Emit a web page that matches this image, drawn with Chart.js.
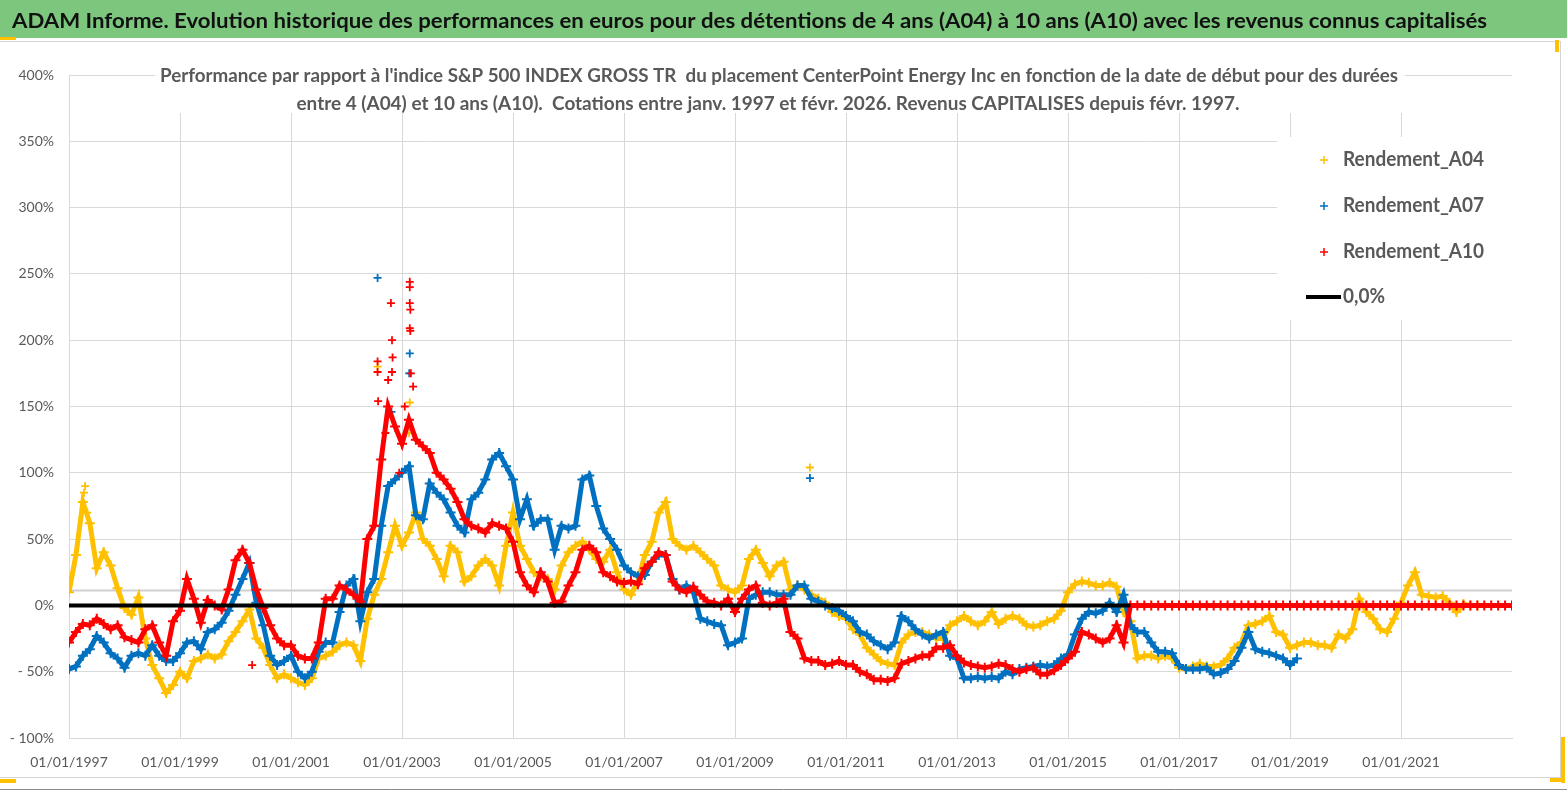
<!DOCTYPE html>
<html lang="fr">
<head>
    <meta charset="UTF-8">
    <title>ADAM Informe - CenterPoint Energy Inc vs S&amp;P 500 INDEX GROSS TR</title>
    <style>
        html, body {
            margin: 0;
            padding: 0;
            background: #ffffff;
            overflow: hidden;
        }
        #chart {
            display: block;
        }
    </style>
</head>
<body>
    <canvas id="chart" width="1567" height="790"></canvas>

    <script src="https://cdn.jsdelivr.net/npm/chart.js"></script>
    <script>
        const headerText = "ADAM Informe. Evolution historique des performances en euros pour des détentions de 4 ans (A04) à 10 ans (A10) avec les revenus connus capitalisés";
        const subtitleLines = [
            "Performance par rapport à l'indice S&P 500 INDEX GROSS TR  du placement CenterPoint Energy Inc en fonction de la date de début pour des durées",
            "entre 4 (A04) et 10 ans (A10).  Cotations entre janv. 1997 et févr. 2026. Revenus CAPITALISES depuis févr. 1997."
        ];
        const seriesNames = ["Rendement_A04", "Rendement_A07", "Rendement_A10", "0,0%"];

        // date de début : un point tous les 1/8 d'an à partir du 01/01/1997
        const startYear = 1997;
        const stepYear = 0.125;

        // performance relative en %
        const a04 = [
            10, 38, 78, 62, 28, 40, 30, 13,
            -2, -7, 6, -25, -45, -55, -66, -60,
            -50, -55, -42, -40, -37, -40, -37, -27,
            -20, -12, -3, -25, -32, -45, -55, -52,
            -55, -58, -60, -55, -40, -38, -35, -30,
            -28, -30, -42, -10, 8, 20, 40, 60,
            45, 55, 70, 50, 45, 35, 22, 45,
            40, 18, 22, 30, 35, 30, 15, 45,
            70, 45, 35, 25, 22, 20, 12, 30,
            40, 45, 48, 42, 35, 33, 42, 25,
            12, 8, 18, 38, 48, 70, 78, 50,
            45, 42, 45, 40, 35, 30, 15, 12,
            10, 15, 35, 42, 32, 22, 30, 33,
            12, 15, 12, 8, 5, 2, -5, -8,
            -10, -18, -22, -32, -37, -42, -44, -45,
            -28, -22, -20, -20, -22, -25, -25, -15,
            -12, -8, -12, -15, -12, -5, -14, -10,
            -8, -10, -15, -16, -15, -12, -10, -4,
            10, 16, 18, 17, 15, 15, 17, 14,
            -5, -12, -40, -38, -38, -40, -38, -40,
            -47, -48, -46, -44, -46, -46, -45, -40,
            -32, -28, -15, -14, -12, -8, -20, -22,
            -32, -30, -28, -28, -30, -30, -32, -22,
            -25, -18, 5, -5, -10, -18, -20, -10,
            2, 15, 25, 8, 7, 6, 7, 2,
            -5, 1, 0, 0
        ];
        const a07 = [
            -48, -46, -38, -33, -23, -28, -36, -40,
            -47, -38, -36, -38, -30, -38, -42, -42,
            -36, -28, -27, -33, -20, -18, -13, -4,
            8, 20, 32, 2, -15, -38, -45, -42,
            -38, -50, -55, -50, -35, -28, -28, -5,
            15, 20, -12, 10, 20, 60, 90, 95,
            100, 105, 68, 65, 92, 85, 80, 70,
            60, 55, 80, 85, 95, 110, 115, 105,
            95, 65, 80, 60, 65, 65, 42, 60,
            58, 60, 95, 98, 75, 58, 50, 42,
            30, 25, 22, 23, 33, 38, 38, 20,
            12, 15, 10, -10, -12, -14, -15, -30,
            -28, -25, 5, 8, 10, 10, 8, 8,
            8, 15, 15, 5, 3, 0, -2, -4,
            -8, -12, -20, -22, -27, -30, -33, -28,
            -8, -12, -18, -22, -25, -22, -20, -38,
            -40, -55, -55, -54, -55, -54, -55, -50,
            -52, -48, -47, -46, -45, -46, -45, -40,
            -37, -22, -10, -5, -6, -4, 2, -5,
            8, -15, -20, -20, -28, -35, -35, -36,
            -45, -48, -48, -48, -47, -52, -51, -48,
            -42, -32, -20, -33, -35, -36, -38, -40,
            -45, -40
        ];
        const a10 = [
            -28, -20, -14, -15, -10, -14, -18, -15,
            -24, -26, -28, -18, -15, -28, -38, -12,
            -4, 20, 5, -13, 4, 0, -3, 12,
            34, 42, 32, 12, -2, -15, -25, -30,
            -30, -38, -40, -40, -28, 5, 5, 15,
            12, 8, 3, 50, 60, 110, 150, 135,
            122, 140, 125, 120, 115, 100, 95, 88,
            78, 65, 60, 58, 55, 62, 60, 58,
            48, 25, 15, 10, 25, 18, 2, 3,
            15, 25, 42, 45, 40, 25, 22, 18,
            17, 18, 16, 28, 33, 40, 38, 18,
            12, 10, 14, 8, 3, 2, 0, 5,
            -5, 5, 12, 15, 2, 0, 2, 5,
            -20, -25, -40, -42, -42, -45, -44, -42,
            -45, -45, -50, -52, -56, -56, -57, -55,
            -44, -42, -40, -38, -38, -32, -32, -30,
            -38, -43, -45, -46, -47, -46, -44, -45,
            -48, -50, -48, -47, -52, -52, -49, -45,
            -40, -35, -20, -22, -25, -28, -25, -15,
            -28, 0, 0, 0, 0, 0, 0, 0,
            0, 0, 0, 0, 0, 0, 0, 0,
            0, 0, 0, 0, 0, 0, 0, 0,
            0, 0, 0, 0, 0, 0, 0, 0,
            0, 0, 0, 0, 0, 0, 0, 0,
            0, 0, 0, 0, 0, 0, 0, 0,
            0, 0, 0, 0, 0, 0, 0, 0,
            0
        ];

        // points isolés [date, %]
        const a04Extra = [[1997.27, 85], [1997.29, 90], [1997.33, 70], [2002.56, 180], [2003.13, 130], [2003.14, 153], [2010.35, 104]];
        const a07Extra = [[2002.56, 247], [2002.81, 146], [2003.13, 175], [2003.14, 190], [2010.35, 96]];
        const a10Extra = [
            [2002.56, 184], [2002.56, 176], [2002.57, 154], [2002.70, 130], [2002.75, 170],
            [2002.80, 228], [2002.82, 200], [2002.83, 187], [2002.82, 176], [2002.95, 100],
            [2003.05, 150], [2003.14, 244], [2003.14, 240], [2003.14, 228], [2003.15, 223],
            [2003.14, 209], [2003.15, 207], [2003.16, 175], [2003.20, 165], [2000.30, -45]
        ];

        const zeroX = [1997, 2016.125];
        const zeroY = [0, 0];
        const refLevel = 11.5; // trait gris secondaire

        const xTicks = [1997, 1999, 2001, 2003, 2005, 2007, 2009, 2011, 2013, 2015, 2017, 2019, 2021];
        const xMax = 2023;

        const colors = ["#ffc000", "#0070c0", "#ff0000", "#000000"];
        const textGrey = "#595959";
        const gridGrey = "#d9d9d9";

        function toPoints(values) {
            return values.map((v, i) => ({ x: startYear + i * stepYear, y: v }));
        }
        function fromPairs(list) {
            return list.map(p => ({ x: p[0], y: p[1] }));
        }

        // draw text stretched to a given width
        function fitText(ctx, text, x, y, width, align) {
            const w = ctx.measureText(text).width;
            ctx.save();
            ctx.translate(x, y);
            ctx.scale(width / w, 1);
            ctx.textAlign = align;
            ctx.fillText(text, 0, 0);
            ctx.restore();
        }

        const decorPlugin = {
            id: 'decor',
            beforeDraw(chart) {
                const ctx = chart.ctx;
                ctx.save();
                ctx.fillStyle = '#ffffff';
                ctx.fillRect(0, 0, chart.width, chart.height);
                // bandeau vert
                ctx.fillStyle = '#7dc67e';
                ctx.fillRect(0, 0, chart.width, 38);
                // cadre
                ctx.strokeStyle = '#d4d4d4';
                ctx.lineWidth = 1;
                ctx.beginPath();
                ctx.moveTo(0, 41.5); ctx.lineTo(1560, 41.5);
                ctx.moveTo(1560.5, 41); ctx.lineTo(1560.5, 777);
                ctx.moveTo(0, 777.5); ctx.lineTo(1561, 777.5);
                ctx.stroke();
                ctx.strokeStyle = '#8a8a8a';
                ctx.beginPath();
                ctx.moveTo(0, 789.5); ctx.lineTo(chart.width, 789.5);
                ctx.stroke();
                // poignées de sélection
                ctx.fillStyle = '#ffc000';
                ctx.fillRect(0, 37, 16, 3);
                ctx.fillRect(0, 779, 16, 4);
                ctx.fillRect(1555, 40, 4, 12);
                ctx.fillRect(1561, 737, 4, 46);
                ctx.fillRect(1550, 778, 15, 4);
                ctx.restore();
            },
            beforeDatasetsDraw(chart) {
                const ctx = chart.ctx;
                const area = chart.chartArea;
                const y = Math.round(chart.scales.y.getPixelForValue(refLevel)) + 0.5;
                ctx.save();
                ctx.strokeStyle = '#cfcfcf';
                ctx.lineWidth = 2;
                ctx.beginPath();
                ctx.moveTo(area.left, y);
                ctx.lineTo(area.right, y);
                ctx.stroke();
                ctx.restore();
            },
            afterDraw(chart) {
                const ctx = chart.ctx;
                ctx.save();
                ctx.textBaseline = 'alphabetic';

                // titre du bandeau
                ctx.fillStyle = '#111111';
                ctx.font = 'bold 20px Lato';
                fitText(ctx, headerText, 12, 28, 1475, 'left');

                // titre du graphique
                ctx.fillStyle = '#ffffff';
                ctx.fillRect(155, 62, 1250, 51);
                ctx.fillStyle = textGrey;
                ctx.font = 'bold 19px Lato';
                fitText(ctx, subtitleLines[0], 779, 82, 1238, 'center');
                fitText(ctx, subtitleLines[1], 768, 110, 943, 'center');

                // légende
                ctx.fillStyle = '#ffffff';
                ctx.fillRect(1277, 137, 235, 183);
                ctx.font = 'bold 20px Lato';
                ctx.textBaseline = 'middle';
                const scale = 141 / ctx.measureText(seriesNames[0]).width;
                const rows = [160, 206, 252, 297];
                seriesNames.forEach((name, i) => {
                    const ry = rows[i];
                    ctx.strokeStyle = colors[i];
                    if (i < 3) {
                        ctx.lineWidth = 1.5;
                        ctx.beginPath();
                        ctx.moveTo(1320, ry); ctx.lineTo(1328, ry);
                        ctx.moveTo(1324, ry - 4); ctx.lineTo(1324, ry + 4);
                        ctx.stroke();
                    } else {
                        ctx.lineWidth = 4;
                        ctx.beginPath();
                        ctx.moveTo(1306, ry); ctx.lineTo(1341, ry);
                        ctx.stroke();
                    }
                    ctx.fillStyle = textGrey;
                    const w = ctx.measureText(name).width * scale;
                    fitText(ctx, name, 1343, ry, w, 'left');
                });
                ctx.restore();
            }
        };

        // suite de points reliés, dense comme le nuage de croix d'origine
        function bandSet(label, values, color, order) {
            return {
                type: 'scatter',
                label: label,
                data: toPoints(values),
                showLine: true,
                borderColor: color,
                backgroundColor: color,
                borderWidth: 5,
                pointStyle: 'cross',
                pointRadius: 5,
                pointBorderWidth: 2,
                pointHoverRadius: 5,
                order: order
            };
        }
        function extraSet(label, extra, color, order) {
            return {
                type: 'scatter',
                label: label,
                data: fromPairs(extra),
                borderColor: color,
                backgroundColor: color,
                pointStyle: 'cross',
                pointRadius: 4,
                pointBorderWidth: 1.8,
                pointHoverRadius: 4,
                order: order
            };
        }

        Chart.defaults.font.family = 'Lato';
        Chart.defaults.color = textGrey;

        new Chart(document.getElementById('chart'), {
            type: 'scatter',
            data: {
                datasets: [
                    bandSet(seriesNames[0], a04, colors[0], 3),
                    bandSet(seriesNames[1], a07, colors[1], 2),
                    bandSet(seriesNames[2], a10, colors[2], 1),
                    {
                        type: 'line',
                        label: seriesNames[3],
                        data: zeroX.map((x, i) => ({ x: x, y: zeroY[i] })),
                        borderColor: colors[3],
                        borderWidth: 4,
                        pointRadius: 0,
                        showLine: true,
                        order: 0
                    },
                    extraSet(seriesNames[0], a04Extra, colors[0], 3),
                    extraSet(seriesNames[1], a07Extra, colors[1], 2),
                    extraSet(seriesNames[2], a10Extra, colors[2], 1)
                ]
            },
            options: {
                responsive: false,
                animation: false,
                events: [],
                layout: {
                    padding: { top: 75, right: 55, bottom: 0, left: 0 }
                },
                plugins: {
                    legend: { display: false },
                    title: { display: false },
                    tooltip: { enabled: false }
                },
                scales: {
                    x: {
                        type: 'linear',
                        min: startYear,
                        max: xMax,
                        afterFit: s => { s.height = 52; },
                        afterBuildTicks: s => { s.ticks = xTicks.map(v => ({ value: v })); },
                        grid: {
                            color: gridGrey,
                            drawTicks: false
                        },
                        border: { color: gridGrey },
                        ticks: {
                            padding: 16,
                            maxRotation: 0,
                            autoSkip: false,
                            font: { size: 14 },
                            color: textGrey,
                            callback: v => '01/01/' + v
                        }
                    },
                    y: {
                        min: -100,
                        max: 400,
                        afterFit: s => { s.width = 69; },
                        grid: {
                            color: gridGrey,
                            drawTicks: false
                        },
                        border: { color: gridGrey },
                        ticks: {
                            stepSize: 50,
                            padding: 15,
                            font: { size: 14 },
                            color: textGrey,
                            callback: v => v < 0 ? '- ' + (-v) + '%' : v + '%'
                        }
                    }
                }
            },
            plugins: [decorPlugin]
        });
    </script>
</body>
</html>
